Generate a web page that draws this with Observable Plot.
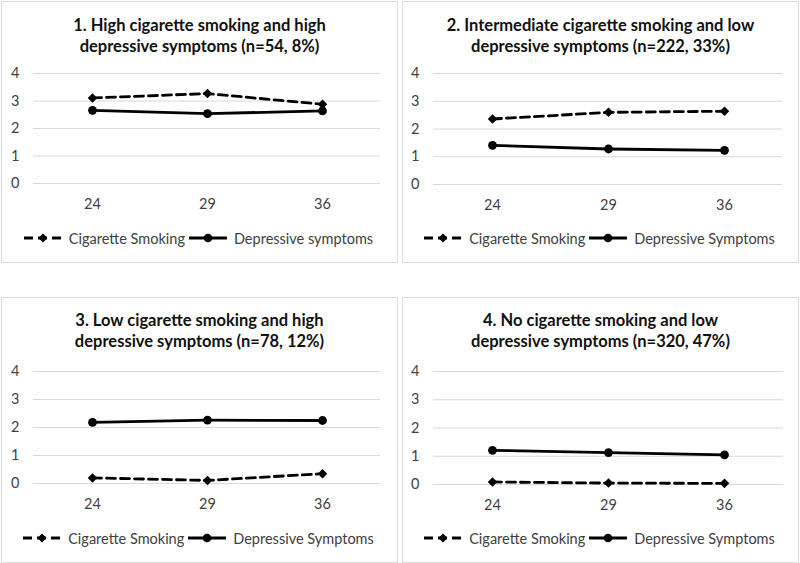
<!DOCTYPE html>
<html>
<head>
<meta charset="utf-8">
<script src="https://cdn.jsdelivr.net/npm/d3@7"></script>
<script src="https://cdn.jsdelivr.net/npm/@observablehq/plot@0.6"></script>
<style>
  html, body { margin: 0; padding: 0; background: #fff; }
  body { width: 800px; height: 563px; position: relative; overflow: hidden; font-family: Lato, "Open Sans", sans-serif; }
  .panel { position: absolute; border: 1px solid #d9d9d9; box-sizing: content-box; background: #fff; }
  .title { position: absolute; left: 0; right: 0; text-align: center; font-weight: bold; font-size: 16.5px; line-height: 21px; color: #111; font-family: Lato, sans-serif; }
  .plot { position: absolute; left: 0; top: 0; }
  .legend { position: absolute; left: 0; right: 0; display: flex; justify-content: center; align-items: center; font-size: 14.5px; color: #404040; height: 20px; }
  .legend svg { display: block; }
  .legend span { margin: 0 3px 0 6px; }
</style>
</head>
<body>
<script>
const ages = ["24", "29", "36"];
const titles = [
  ["1. High cigarette smoking and high", "depressive symptoms (n=54, 8%)"],
  ["2. Intermediate cigarette smoking and low", "depressive symptoms (n=222, 33%)"],
  ["3. Low cigarette smoking and high", "depressive symptoms (n=78, 12%)"],
  ["4. No cigarette smoking and low", "depressive symptoms (n=320, 47%)"]
];
const cigLabel = "Cigarette Smoking";
const depLabels = ["Depressive symptoms", "Depressive Symptoms", "Depressive Symptoms", "Depressive Symptoms"];
const cigSmoking = [
  [3.11, 3.27, 2.88],
  [2.36, 2.60, 2.64],
  [0.20, 0.11, 0.35],
  [0.09, 0.05, 0.04]
];
const depressive = [
  [2.66, 2.54, 2.64],
  [1.41, 1.28, 1.23],
  [2.18, 2.26, 2.25],
  [1.21, 1.13, 1.05]
];
const yTicks = [0, 1, 2, 3, 4];

// layout per panel
const panels = [
  {left: 1, top: 1, w: 395, h: 260, ml: 31, mr: 17, mt: 71, y0: 181, titleTop: 13, legendY: 236},
  {left: 402, top: 1, w: 395, h: 260, ml: 30, mr: 16, mt: 71, y0: 182, titleTop: 13, legendY: 236},
  {left: 1, top: 297, w: 395, h: 264, ml: 31, mr: 17, mt: 73, y0: 185, titleTop: 12, legendY: 240},
  {left: 402, top: 297, w: 395, h: 264, ml: 30, mr: 15, mt: 73, y0: 186, titleTop: 12, legendY: 240}
];

function legendSwatch(dashed) {
  const ns = "http://www.w3.org/2000/svg";
  const s = document.createElementNS(ns, "svg");
  s.setAttribute("width", 40); s.setAttribute("height", 12);
  const l = document.createElementNS(ns, "line");
  l.setAttribute("x1", 1); l.setAttribute("x2", 39); l.setAttribute("y1", 6); l.setAttribute("y2", 6);
  l.setAttribute("stroke", "#000"); l.setAttribute("stroke-width", 2.8);
  if (dashed) l.setAttribute("stroke-dasharray", "9,5");
  s.appendChild(l);
  if (dashed) {
    const p = document.createElementNS(ns, "path");
    p.setAttribute("d", "M20,1.5L24.5,6L20,10.5L15.5,6Z");
    p.setAttribute("fill", "#000");
    s.appendChild(p);
  } else {
    const c = document.createElementNS(ns, "circle");
    c.setAttribute("cx", 20); c.setAttribute("cy", 6); c.setAttribute("r", 4.3);
    c.setAttribute("fill", "#000");
    s.appendChild(c);
  }
  return s;
}

panels.forEach((p, i) => {
  const div = document.createElement("div");
  div.className = "panel";
  Object.assign(div.style, {left: p.left + "px", top: p.top + "px", width: p.w + "px", height: p.h + "px"});
  document.body.appendChild(div);

  const cigData = ages.map((a, j) => ({age: a, v: cigSmoking[i][j]}));
  const depData = ages.map((a, j) => ({age: a, v: depressive[i][j]}));
  const mb = 30;
  const chart = Plot.plot({
    width: p.w,
    height: p.y0 + mb,
    marginLeft: p.ml,
    marginRight: p.mr,
    marginTop: p.mt,
    marginBottom: mb,
    style: {fontFamily: "Lato, 'Open Sans', sans-serif", fontSize: "14.5px", color: "#404040", background: "transparent"},
    x: {type: "point", domain: ages, padding: 0.5, label: null},
    y: {domain: [0, 4], label: null},
    marks: [
      Plot.ruleY(yTicks, {stroke: "#d9d9d9", strokeWidth: 1, strokeOpacity: 1}),
      Plot.axisX({tickSize: 0, tickPadding: 15, fontSize: 14.5, fill: "#404040"}),
      Plot.axisY({ticks: yTicks, tickFormat: d3.format("d"), tickSize: 0, tickPadding: 14, fontSize: 14.5, fill: "#404040"}),
      Plot.line(cigData, {x: "age", y: "v", stroke: "#000", strokeWidth: 2.8, strokeDasharray: "9,5"}),
      Plot.line(depData, {x: "age", y: "v", stroke: "#000", strokeWidth: 2.8}),
      Plot.dot(cigData, {x: "age", y: "v", symbol: "diamond2", r: 4.3, fill: "#000", stroke: "none"}),
      Plot.dot(depData, {x: "age", y: "v", symbol: "circle", r: 4.4, fill: "#000"})
    ]
  });
  chart.classList.add("plot");
  div.appendChild(chart);

  const t = document.createElement("div");
  t.className = "title";
  t.style.top = p.titleTop + "px";
  t.innerHTML = titles[i].join("<br>");
  div.appendChild(t);

  const lg = document.createElement("div");
  lg.className = "legend";
  lg.style.top = (p.legendY - 10) + "px";
  lg.appendChild(legendSwatch(true));
  const s1 = document.createElement("span"); s1.textContent = cigLabel; lg.appendChild(s1);
  lg.appendChild(legendSwatch(false));
  const s2 = document.createElement("span"); s2.textContent = depLabels[i]; lg.appendChild(s2);
  div.appendChild(lg);
});
</script>
</body>
</html>
